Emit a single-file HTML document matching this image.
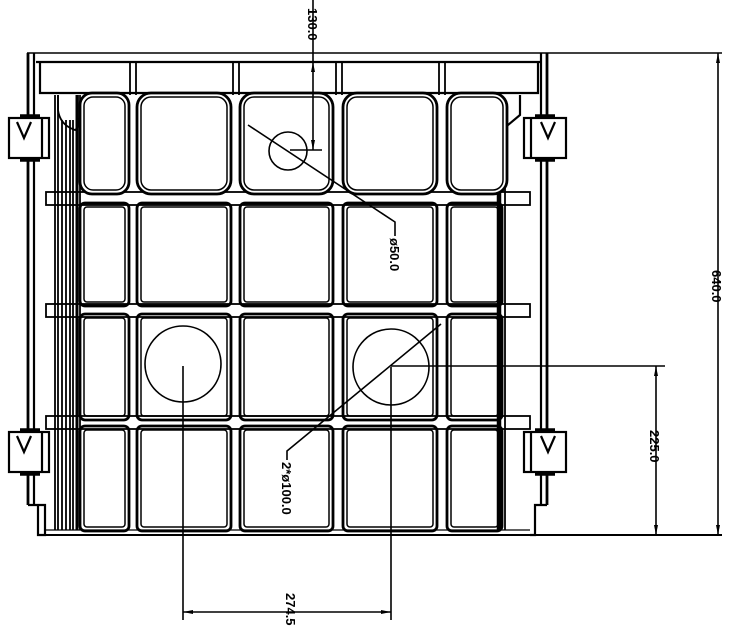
<!DOCTYPE html>
<html><head><meta charset="utf-8"><style>
html,body{margin:0;padding:0;background:#fff;}
svg{display:block;}
text{font-family:"Liberation Sans",sans-serif;font-size:13px;font-weight:bold;fill:#000;}
</style></head><body>
<svg width="737" height="633" viewBox="0 0 737 633" xmlns="http://www.w3.org/2000/svg">
<g fill="none" stroke="#000">
<line x1="27" y1="53" x2="722" y2="53" stroke-width="1.5"/>
<line x1="36" y1="62" x2="541" y2="62" stroke-width="2.2"/>
<polyline points="40,62 40,93 538,93 538,62" stroke-width="2.2"/>
<line x1="28" y1="53" x2="28" y2="505" stroke-width="2.8"/>
<line x1="34" y1="53" x2="34" y2="505" stroke-width="2.2"/>
<polyline points="28,505 45,505 45,535 38,535 38,505" stroke-width="2.2"/>
<line x1="541" y1="53" x2="541" y2="505" stroke-width="2.2"/>
<line x1="547" y1="53" x2="547" y2="505" stroke-width="2.8"/>
<polyline points="547,505 535,505 535,535 530,535" stroke-width="2.2"/>
<line x1="38" y1="535" x2="722" y2="535" stroke-width="2"/>
<line x1="45" y1="530" x2="530" y2="530" stroke-width="1.2"/>
<g stroke-width="1.8">
<line x1="55" y1="95" x2="55" y2="530"/><line x1="58" y1="95" x2="58" y2="530"/>
<line x1="62" y1="120" x2="62" y2="530"/><line x1="66" y1="120" x2="66" y2="530"/>
<line x1="70" y1="120" x2="70" y2="530"/><line x1="73" y1="120" x2="73" y2="530"/>
<line x1="77" y1="95" x2="77" y2="530" stroke-width="3"/><line x1="80" y1="95" x2="80" y2="530"/>
</g>
<path d="M58,95 L58,110 Q60,125 75,130 Q82,125 78,118 L78,95" stroke-width="1.8"/>
<line x1="499" y1="150" x2="499" y2="530" stroke-width="4.5"/>
<line x1="505" y1="150" x2="505" y2="530" stroke-width="1.8"/>
<path d="M490,100 L490,140 L520,115 L520,95" stroke-width="2.2"/>
<line x1="490" y1="100" x2="490" y2="140" stroke-width="3.5"/>
<g stroke-width="1.8">
<rect x="46" y="192" width="484" height="13"/>
<rect x="46" y="304" width="484" height="13"/>
<rect x="46" y="416" width="484" height="13"/>
</g>
<g stroke-width="1.8">
<line x1="130" y1="62" x2="130" y2="95"/><line x1="136" y1="62" x2="136" y2="95"/>
<line x1="233" y1="62" x2="233" y2="95"/><line x1="239" y1="62" x2="239" y2="95"/>
<line x1="336" y1="62" x2="336" y2="95"/><line x1="342" y1="62" x2="342" y2="95"/>
<line x1="439" y1="62" x2="439" y2="95"/><line x1="445" y1="62" x2="445" y2="95"/>
</g>
</g>
<g fill="#fff" stroke="#000">
<g stroke-width="2.8">
<rect x="80" y="93" width="49" height="101" rx="12"/>
<rect x="137" y="93" width="94" height="101" rx="14"/>
<rect x="240" y="93" width="93" height="101" rx="14"/>
<rect x="343" y="93" width="94" height="101" rx="14"/>
<rect x="447" y="93" width="60" height="101" rx="14"/>
</g>
<g stroke-width="1.5" fill="none">
<rect x="84" y="97" width="41" height="93" rx="9"/>
<rect x="141" y="97" width="86" height="93" rx="10"/>
<rect x="244" y="97" width="85" height="93" rx="10"/>
<rect x="347" y="97" width="86" height="93" rx="10"/>
<rect x="451" y="97" width="52" height="93" rx="10"/>
</g>
</g>
<g fill="none" stroke="#000">
<g stroke-width="2.8">
<rect x="80" y="203" width="49" height="103" rx="5"/><rect x="137" y="203" width="94" height="103" rx="5"/><rect x="240" y="203" width="93" height="103" rx="5"/><rect x="343" y="203" width="94" height="103" rx="5"/><rect x="447" y="203" width="55" height="103" rx="5"/>
<rect x="80" y="314" width="49" height="106" rx="5"/><rect x="137" y="314" width="94" height="106" rx="5"/><rect x="240" y="314" width="93" height="106" rx="5"/><rect x="343" y="314" width="94" height="106" rx="5"/><rect x="447" y="314" width="55" height="106" rx="5"/>
<rect x="80" y="426" width="49" height="105" rx="5"/><rect x="137" y="426" width="94" height="105" rx="5"/><rect x="240" y="426" width="93" height="105" rx="5"/><rect x="343" y="426" width="94" height="105" rx="5"/><rect x="447" y="426" width="55" height="105" rx="5"/>
</g>
<g stroke-width="1.5">
<rect x="84" y="207" width="41" height="95" rx="3"/><rect x="141" y="207" width="86" height="95" rx="3"/><rect x="244" y="207" width="85" height="95" rx="3"/><rect x="347" y="207" width="86" height="95" rx="3"/><rect x="451" y="207" width="47" height="95" rx="3"/>
<rect x="84" y="318" width="41" height="98" rx="3"/><rect x="141" y="318" width="86" height="98" rx="3"/><rect x="244" y="318" width="85" height="98" rx="3"/><rect x="347" y="318" width="86" height="98" rx="3"/><rect x="451" y="318" width="47" height="98" rx="3"/>
<rect x="84" y="430" width="41" height="97" rx="3"/><rect x="141" y="430" width="86" height="97" rx="3"/><rect x="244" y="430" width="85" height="97" rx="3"/><rect x="347" y="430" width="86" height="97" rx="3"/><rect x="451" y="430" width="47" height="97" rx="3"/>
</g>
</g>
<g fill="#fff" stroke="#000" stroke-width="2.2">
<rect x="9" y="118" width="40" height="40"/><rect x="9" y="432" width="40" height="40"/>
<rect x="524" y="118" width="42" height="40"/><rect x="524" y="432" width="42" height="40"/>
</g>
<g fill="none" stroke="#000" stroke-width="2.2">
<line x1="42" y1="118" x2="42" y2="158"/><line x1="42" y1="432" x2="42" y2="472"/>
<line x1="531" y1="118" x2="531" y2="158"/><line x1="531" y1="432" x2="531" y2="472"/>
<polyline points="17,122 24,138 31,122"/><polyline points="17,436 24,452 31,436"/>
<polyline points="541,122 548,138 555,122"/><polyline points="541,436 548,452 555,436"/>
<line x1="20" y1="116" x2="40" y2="116" stroke-width="3.5"/><line x1="20" y1="160" x2="40" y2="160" stroke-width="3.5"/>
<line x1="20" y1="430" x2="40" y2="430" stroke-width="3.5"/><line x1="20" y1="474" x2="40" y2="474" stroke-width="3.5"/>
<line x1="535" y1="116" x2="555" y2="116" stroke-width="3.5"/><line x1="535" y1="160" x2="555" y2="160" stroke-width="3.5"/>
<line x1="535" y1="430" x2="555" y2="430" stroke-width="3.5"/><line x1="535" y1="474" x2="555" y2="474" stroke-width="3.5"/>
</g>
<g fill="none" stroke="#000" stroke-width="1.6">
<circle cx="288" cy="151" r="19"/>
<circle cx="183" cy="364" r="38"/>
<circle cx="391" cy="367" r="38"/>
<line x1="313" y1="0" x2="313" y2="150"/>
<line x1="290" y1="150" x2="322" y2="150"/>
<polyline points="248,125 395,222 395,236"/>
<polyline points="441,324 287,451 287,460"/>
<line x1="183" y1="366" x2="183" y2="620"/>
<line x1="391" y1="367" x2="391" y2="620"/>
<line x1="183" y1="612" x2="391" y2="612"/>
<line x1="391" y1="366" x2="665" y2="366"/>
<line x1="656" y1="366" x2="656" y2="535"/>
<line x1="718" y1="53" x2="718" y2="535"/>
</g>
<g fill="#000">
<polygon points="313,150 311,140 315,140"/>
<polygon points="313,62 311,72 315,72"/>
<polygon points="183,612 193,610 193,614"/>
<polygon points="391,612 381,610 381,614"/>
<polygon points="656,366 654,376 658,376"/>
<polygon points="656,535 654,525 658,525"/>
<polygon points="718,53 716,63 720,63"/>
<polygon points="718,535 716,525 720,525"/>
</g>
<g>
<text transform="translate(308,8) rotate(90)">130.0</text>
<text transform="translate(390,238) rotate(90)">ø50.0</text>
<text transform="translate(282,462) rotate(90)">2*ø100.0</text>
<text transform="translate(286,593) rotate(90)">274.5</text>
<text transform="translate(650,430) rotate(90)">225.0</text>
<text transform="translate(712,270) rotate(90)">640.0</text>
</g>
</svg>
</body></html>
